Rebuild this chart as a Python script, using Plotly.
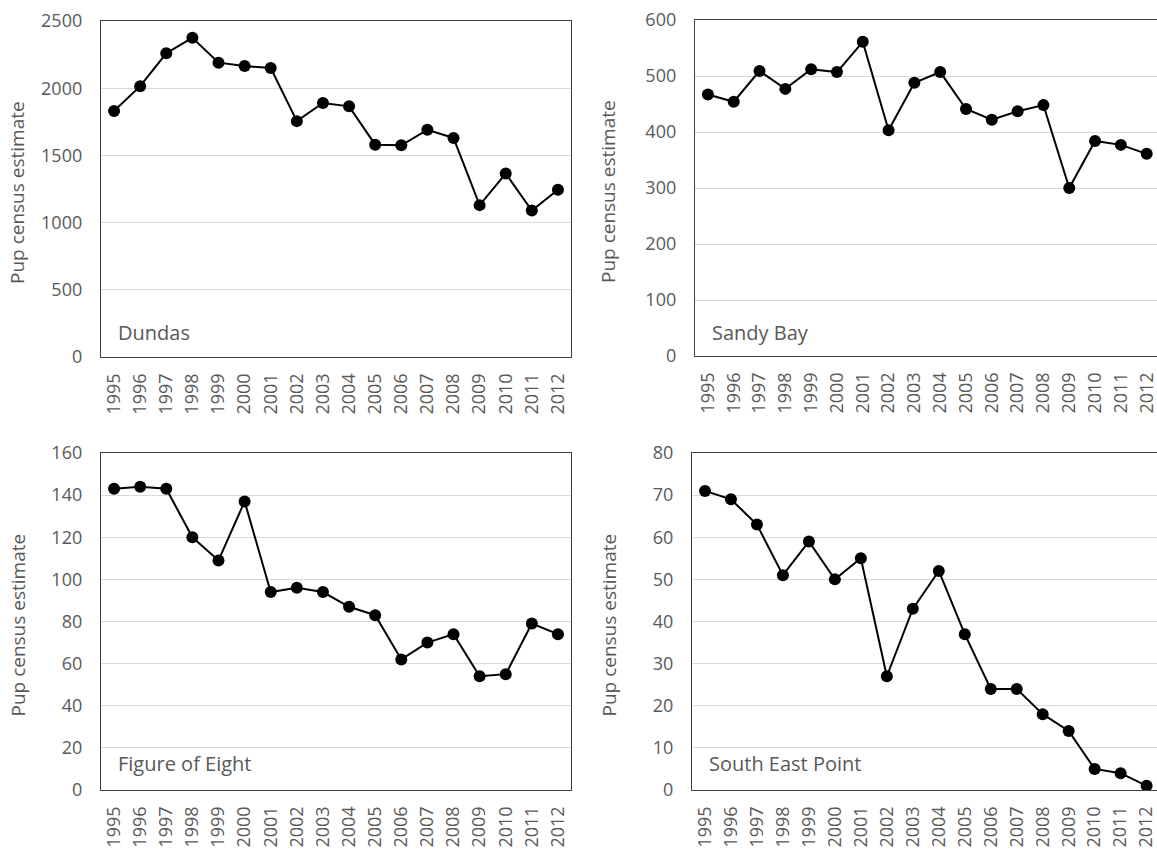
import plotly.graph_objects as go
from plotly.subplots import make_subplots

# data
years = [str(y) for y in range(1995, 2013)]

dundas = [1830, 2015, 2260, 2375, 2190, 2165, 2150, 1755, 1890, 1865,
          1580, 1575, 1690, 1630, 1130, 1365, 1090, 1245]
sandy_bay = [467, 454, 509, 477, 512, 507, 561, 403, 488, 507,
             441, 422, 437, 448, 300, 384, 377, 361]
figure_of_eight = [143, 144, 143, 120, 109, 137, 94, 96, 94, 87,
                   83, 62, 70, 74, 54, 55, 79, 74]
south_east_point = [71, 69, 63, 51, 59, 50, 55, 27, 43, 52,
                    37, 24, 24, 18, 14, 5, 4, 1]

sites = ['Dundas', 'Sandy Bay', 'Figure of Eight', 'South East Point']
series = [dundas, sandy_bay, figure_of_eight, south_east_point]
y_ranges = [[0, 2500], [0, 600], [0, 160], [0, 80]]
y_dticks = [500, 100, 20, 10]

W, H = 1157, 850
FONT = 'Open Sans'
GREY = '#595959'

# panel boxes in pixels: left, right, top, bottom
boxes = [(101, 571, 21, 357), (695, 1157, 20, 356),
         (101, 571, 453, 790), (692, 1157, 453, 790)]


def px(v):
    return v / W


def py(v):
    return 1 - v / H


fig = make_subplots(rows=2, cols=2)

for i, (vals, site) in enumerate(zip(series, sites)):
    r, c = i // 2 + 1, i % 2 + 1
    fig.add_trace(go.Scatter(x=years, y=vals, mode='lines+markers',
                             line=dict(color='black', width=2),
                             marker=dict(color='black', size=12),
                             showlegend=False), row=r, col=c)

    left, right, top, bottom = boxes[i]
    right_panel = c == 2
    # right-hand panels run off the edge of the page
    xr = [-0.5, 17.4] if right_panel else [-0.5, 17.5]

    fig.update_xaxes(domain=[px(left), px(right)], range=xr,
                     type='category', tickangle=-90, showgrid=False,
                     showline=True, linecolor='#404040', linewidth=1.3,
                     mirror=True, ticks='', ticklabelstandoff=8,
                     automargin=False,
                     tickfont=dict(family=FONT, size=18, color=GREY),
                     row=r, col=c)
    fig.update_yaxes(domain=[py(bottom), py(top)], range=y_ranges[i],
                     dtick=y_dticks[i],
                     showgrid=True, gridcolor='#d9d9d9', gridwidth=1,
                     zeroline=False,
                     showline=True, linecolor='#404040', linewidth=1.3,
                     mirror=not right_panel, ticks='',
                     ticklabelstandoff=14, automargin=False,
                     tickfont=dict(family=FONT, size=18, color=GREY),
                     row=r, col=c)

    # site name inside the panel
    fig.add_annotation(x=px(left + 15), y=py(332 if r == 1 else 763),
                       xref='paper', yref='paper', xanchor='left',
                       yanchor='middle', showarrow=False, text=site,
                       font=dict(family=FONT, size=20, color=GREY))

    # y axis title
    fig.add_annotation(x=px(17 if c == 1 else 608),
                       y=py((top + bottom) / 2 + 4),
                       xref='paper', yref='paper', textangle=-90,
                       xanchor='center', yanchor='middle',
                       showarrow=False, text='Pup census estimate',
                       font=dict(family=FONT, size=19, color=GREY))

fig.update_layout(width=W, height=H,
                  margin=dict(l=0, r=0, t=0, b=0),
                  plot_bgcolor='white', paper_bgcolor='white')

# drop the default 8px page margin so the figure fills the window exactly
fig.write_html("out.html", config={'displayModeBar': False},
               post_script="document.body.style.margin='0';"
                           "document.body.style.overflow='hidden';")
